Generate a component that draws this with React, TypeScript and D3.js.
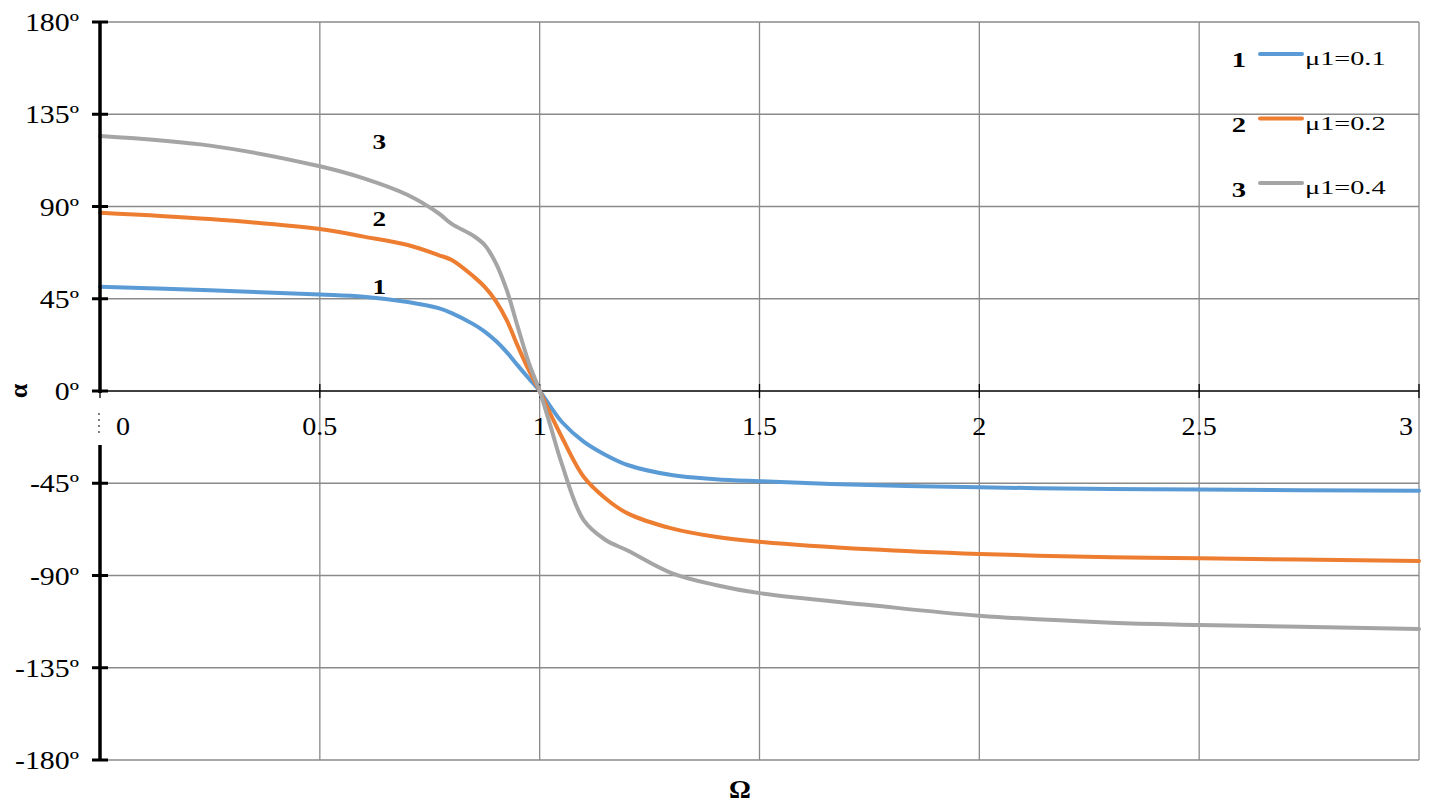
import React from "react";
import * as d3 from "d3";

const omega = [0, 0.25, 0.5, 0.6, 0.7, 0.77, 0.8, 0.85, 0.875, 0.9, 0.925, 0.95, 0.975, 1, 1.025, 1.05, 1.1, 1.15, 1.2, 1.3, 1.4, 1.5, 1.75, 2, 2.3, 2.5, 3];
const alpha1 = [50.9, 49.1, 47.1, 46.0, 43.4, 40.4, 38.0, 32.5, 29.0, 24.5, 19.0, 12.5, 6.2, 0, -7.8, -15.0, -24.7, -31.2, -36.1, -41.0, -43.0, -44.0, -45.9, -47.0, -47.8, -48.1, -48.7];
const alpha2 = [87.0, 83.9, 79.0, 75.3, 71.2, 66.3, 63.9, 55.8, 50.8, 44.0, 34.6, 22.0, 10.3, 0, -11.5, -22.3, -41.8, -52.4, -59.7, -67.0, -71.1, -73.5, -77.2, -79.5, -81.1, -81.6, -82.9];
const alpha3 = [124.4, 119.7, 109.6, 103.7, 95.6, 86.7, 81.5, 75.6, 71.2, 62.5, 49.3, 31.4, 14.0, 0, -17.4, -35.3, -63.0, -72.7, -77.8, -88.8, -94.6, -98.6, -104.4, -109.6, -113.0, -114.1, -116.1];

const seriesNames = ["μ1=0.1", "μ1=0.2", "μ1=0.4"];
const seriesNums = ["1", "2", "3"];
const seriesColors = ["#5B9BD5", "#ED7D31", "#A5A5A5"];
const seriesValues = [alpha1, alpha2, alpha3];

const xTicks = [0, 0.5, 1, 1.5, 2, 2.5, 3];
const xTickLabels = ["0", "0.5", "1", "1.5", "2", "2.5", "3"];
const yTicks = [180, 135, 90, 45, 0, -45, -90, -135, -180];
const yTickLabels = ["180º", "135º", "90º", "45º", "0º", "-45º", "-90º", "-135º", "-180º"];

// curve label anchor positions (data coords)
const curveLabelOmega = 0.635;
const curveLabelAlpha = [47.5, 80.5, 118];

function SText(props: {
  x: number;
  y: number;
  sx: number;
  size: number;
  anchor?: string;
  bold?: boolean;
  children: React.ReactNode;
}) {
  return (
    <text
      transform={`translate(${props.x},${props.y}) scale(${props.sx},1)`}
      textAnchor={props.anchor || "start"}
      fontSize={props.size}
      fontWeight={props.bold ? "bold" : "normal"}
      fill="#000"
    >
      {props.children}
    </text>
  );
}

export default function App() {
  const x = d3.scaleLinear().domain([0, 3]).range([100, 1419]);
  const y = d3.scaleLinear().domain([-180, 180]).range([760, 22]);
  const font = "'Liberation Serif', 'Times New Roman', serif";

  const line = d3
    .line<[number, number]>()
    .x((d) => x(d[0]))
    .y((d) => y(d[1]))
    .curve(d3.curveCatmullRom.alpha(0.5));

  const gridColor = "#8a8a8a";

  return (
    <svg
      width={1432}
      height={812}
      style={{ position: "absolute", left: 0, top: 0, background: "#fff" }}
      fontFamily={font}
    >
      <rect x={0} y={0} width={1432} height={812} fill="#fff" />
      {/* horizontal gridlines */}
      {yTicks.filter((t) => t !== 0).map((t) => (
        <line key={"hg" + t} x1={x(0)} x2={x(3)} y1={y(t)} y2={y(t)} stroke={gridColor} strokeWidth={1.3} />
      ))}
      {/* vertical gridlines */}
      {xTicks.filter((t) => t !== 0).map((t) => (
        <line key={"vg" + t} x1={x(t)} x2={x(t)} y1={y(180)} y2={y(-180)} stroke={gridColor} strokeWidth={1.3} />
      ))}
      {/* x axis */}
      <line x1={x(0)} x2={x(3)} y1={y(0)} y2={y(0)} stroke="#000" strokeWidth={1.5} />
      {xTicks.map((t) => (
        <line key={"xt" + t} x1={x(t)} x2={x(t)} y1={y(0) - 7} y2={y(0) + 7} stroke="#000" strokeWidth={1.3} />
      ))}
      {/* series */}
      {seriesValues.map((vals, i) => (
        <path
          key={"s" + i}
          d={line(omega.map((o, j) => [o, vals[j]] as [number, number])) || ""}
          fill="none"
          stroke={seriesColors[i]}
          strokeWidth={4}
          strokeLinejoin="round"
          strokeLinecap="round"
        />
      ))}
      {/* y axis */}
      <line x1={x(0)} x2={x(0)} y1={y(180)} y2={y(0) + 2} stroke="#000" strokeWidth={3.5} />
      <line x1={x(0)} x2={x(0)} y1={y(0) + 54} y2={y(-180)} stroke="#000" strokeWidth={3.5} />
      <line x1={x(0) - 1} x2={x(0) - 1} y1={y(0) + 22} y2={y(0) + 46} stroke="#000" strokeWidth={1} strokeDasharray="2,4" />
      {yTicks.map((t) => (
        <line key={"yt" + t} x1={x(0) - 8} x2={x(0) + 8} y1={y(t)} y2={y(t)} stroke="#000" strokeWidth={3} />
      ))}
      {/* y tick labels */}
      {yTicks.map((t, i) => (
        <SText key={"yl" + t} x={79} y={y(t) + 9} sx={1.22} size={24.5} anchor="end">
          {yTickLabels[i]}
        </SText>
      ))}
      {/* x tick labels */}
      {xTicks.map((t, i) => {
        const first = i === 0;
        const last = i === xTicks.length - 1;
        const px = first ? x(t) + 16 : last ? x(t) - 6 : x(t);
        const anchor = first ? "start" : last ? "end" : "middle";
        return (
          <SText key={"xl" + t} x={px} y={y(0) + 44} sx={1.08} size={26} anchor={anchor}>
            {xTickLabels[i]}
          </SText>
        );
      })}
      {/* axis titles */}
      <text
        x={0}
        y={0}
        transform={`translate(27,${y(0)}) rotate(-90)`}
        textAnchor="middle"
        fontSize={26}
        fontWeight="bold"
        fill="#000"
      >
        α
      </text>
      <SText x={740} y={798} sx={1.05} size={26} anchor="middle" bold>
        Ω
      </SText>
      {/* curve labels */}
      {seriesNums.map((n, i) => (
        <SText key={"cl" + n} x={x(curveLabelOmega)} y={y(curveLabelAlpha[i])} sx={1.3} size={21} anchor="middle" bold>
          {n}
        </SText>
      ))}
      {/* legend */}
      {seriesNames.map((name, i) => {
        const ly = 54 + i * 64.5;
        return (
          <g key={"lg" + i}>
            <SText x={1239} y={ly + 13 + (i === 2 ? 1 : 0)} sx={1.3} size={22} anchor="middle" bold>
              {seriesNums[i]}
            </SText>
            <line x1={1260} x2={1302} y1={ly} y2={ly} stroke={seriesColors[i]} strokeWidth={4} strokeLinecap="round" />
            <SText x={1305} y={ly + 11} sx={1.45} size={19.5}>
              {name}
            </SText>
          </g>
        );
      })}
    </svg>
  );
}
